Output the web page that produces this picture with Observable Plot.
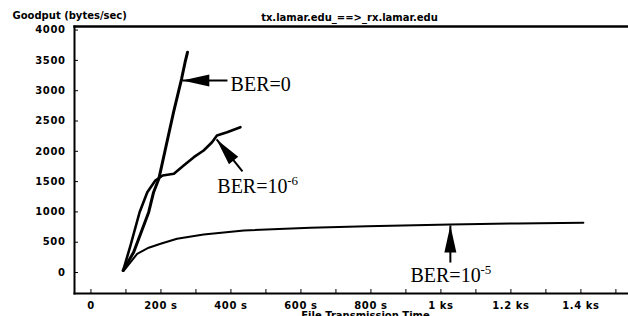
<!DOCTYPE html>
<html>
<head>
<meta charset="utf-8">
<script src="https://cdn.jsdelivr.net/npm/d3@7"></script>
<script src="https://cdn.jsdelivr.net/npm/@observablehq/plot@0.6"></script>
<style>
  html, body { margin: 0; padding: 0; background: #fff; }
  svg { display: block; }
  #chart svg g[aria-label="x-axis tick label"] text,
  #chart svg g[aria-label="y-axis tick label"] text,
  #chart svg g[aria-label="axis-title"] text { letter-spacing: 0.6px; }
  #chart svg g[aria-label="chart-title"] text { letter-spacing: 0.85px; }
  #chart svg g[aria-label="annotation"] text { letter-spacing: 0; }
</style>
</head>
<body>
<div id="chart"></div>
<script>
// ---- data (time in s, goodput in bytes/sec) ----
const ber0Time   = [92, 122, 165, 179, 194, 215, 236, 259, 269, 276];
const ber0Value  = [33, 335, 995, 1325, 1546, 2096, 2645, 3196, 3470, 3635];

const ber6Time   = [92, 113, 139, 161, 184, 205, 237, 265, 294, 322, 346, 360, 389, 427];
const ber6Value  = [33, 446, 995, 1325, 1518, 1600, 1629, 1766, 1903, 2013, 2150, 2261, 2315, 2398];

const ber5Time   = [94, 132, 165, 199, 246, 322, 437, 627, 789, 1027, 1218, 1407];
const ber5Value  = [33, 309, 410, 474, 556, 627, 693, 738, 764, 792, 810, 820];

const xTicks      = [0, 200, 400, 600, 800, 1000, 1200, 1400];
const xTickLabels = ["0", "200 s", "400 s", "600 s", "800 s", "1 ks", "1.2 ks", "1.4 ks"];
const xMinorTicks = [0, 100, 200, 300, 400, 500, 600, 700, 800, 900, 1000, 1100, 1200, 1300, 1400, 1500];
const yTicks      = [0, 500, 1000, 1500, 2000, 2500, 3000, 3500, 4000];

const titleText  = "tx.lamar.edu_==>_rx.lamar.edu";
const yLabelText = "Goodput (bytes/sec)";
const xLabelText = "File Transmission Time";

// annotations (in data coordinates)
const annText    = ["BER=0", "BER=10", "BER=10"];
const annSup     = ["", "-6", "-5"];
const annTextX   = [399, 361, 913];
const annTextY   = [2990, 1320, -160];
const arrowTipX  = [261, 359, 1027];
const arrowTipY  = [3168, 2195, 776];
const arrowTailX = [390, 433, 1027];
const arrowTailY = [3168, 1667, 165];
const arrowAngle = [-90, -39, 0];

// ---- build tables ----
const series = [
  ...ber0Time.map((t, i) => ({s: "BER=0", t, v: ber0Value[i]})),
  ...ber6Time.map((t, i) => ({s: "BER=1e-6", t, v: ber6Value[i]})),
  ...ber5Time.map((t, i) => ({s: "BER=1e-5", t, v: ber5Value[i]}))
];
const anns = annText.map((txt, i) => ({
  txt, sup: annSup[i], tx: annTextX[i], ty: annTextY[i],
  x1: arrowTipX[i], y1: arrowTipY[i], x2: arrowTailX[i], y2: arrowTailY[i], a: arrowAngle[i]
}));

const arrowHead = {
  draw(ctx, size) {
    const r = Math.sqrt(size / Math.PI);
    const L = 4.5 * r;
    ctx.moveTo(0, 0);
    ctx.lineTo(r, L);
    ctx.lineTo(-r, L);
    ctx.closePath();
  }
};

const W = 628, H = 316, mL = 74, mR = 0, mT = 26, mB = 23;
const frameH = H - mT - mB, frameW = W - mL - mR;
const serif = "'Liberation Serif', 'Times New Roman', serif";

const chart = Plot.plot({
  width: W, height: H,
  marginLeft: mL, marginRight: mR, marginTop: mT, marginBottom: mB,
  style: {fontFamily: "'DejaVu Sans', sans-serif", fontWeight: "bold", fontSize: "10px", color: "#000", background: "#fff", overflow: "visible"},
  x: {domain: [-47, 1536]},
  y: {domain: [-346, 4059]},
  marks: [
    Plot.frame({anchor: "top", stroke: "#000", strokeWidth: 2.5}),
    Plot.frame({anchor: "left", stroke: "#000", strokeWidth: 2}),
    Plot.frame({anchor: "bottom", stroke: "#000", strokeWidth: 2}),
    Plot.tickX(xMinorTicks, {x: d => d, insetTop: frameH - 4, stroke: "#000", strokeWidth: 1}),
    Plot.tickY(yTicks, {y: d => d, insetRight: frameW - 4, stroke: "#000", strokeWidth: 1}),
    Plot.axisX(xTicks, {tickSize: 0, tickPadding: 8, label: null, tickFormat: d => xTickLabels[xTicks.indexOf(d)], fontSize: 10}),
    Plot.axisY(yTicks, {tickSize: 0, tickPadding: 9, label: null, tickFormat: d => String(d), fontSize: 10}),
    Plot.line(series.filter(d => d.s === "BER=1e-5"), {x: "t", y: "v", stroke: "#000", strokeWidth: 2}),
    Plot.line(series.filter(d => d.s === "BER=1e-6"), {x: "t", y: "v", stroke: "#000", strokeWidth: 2.6}),
    Plot.line(series.filter(d => d.s === "BER=0"), {x: "t", y: "v", stroke: "#000", strokeWidth: 3}),
    Plot.link(anns, {x1: "x1", y1: "y1", x2: "x2", y2: "y2", stroke: "#000", strokeWidth: 2}),
    Plot.dot(anns, {x: "x1", y: "y1", symbol: arrowHead, r: 6, fill: "#000", stroke: "none", rotate: "a"}),
    Plot.text(anns, {x: "tx", y: "ty", text: "txt", textAnchor: "start", lineAnchor: "bottom", fontFamily: serif, fontWeight: "normal", fontSize: 20, fill: "#000", ariaLabel: "annotation"}),
    Plot.text(anns, {x: "tx", y: "ty", text: "sup", textAnchor: "start", lineAnchor: "bottom", dx: 70, dy: -8, fontFamily: serif, fontWeight: "normal", fontSize: 13, fill: "#000", ariaLabel: "annotation"}),
    Plot.text([titleText], {frameAnchor: "top", dx: -2, dy: -6, lineAnchor: "bottom", fontSize: 10, ariaLabel: "chart-title"}),
    Plot.text([yLabelText], {frameAnchor: "top-left", dx: -62, dy: -8, textAnchor: "start", lineAnchor: "bottom", fontSize: 10, ariaLabel: "axis-title"}),
    Plot.text([xLabelText], {frameAnchor: "bottom", dx: 14, dy: 18, lineAnchor: "top", fontSize: 10, ariaLabel: "axis-title"})
  ]
});
document.getElementById("chart").appendChild(chart);
</script>
</body>
</html>
